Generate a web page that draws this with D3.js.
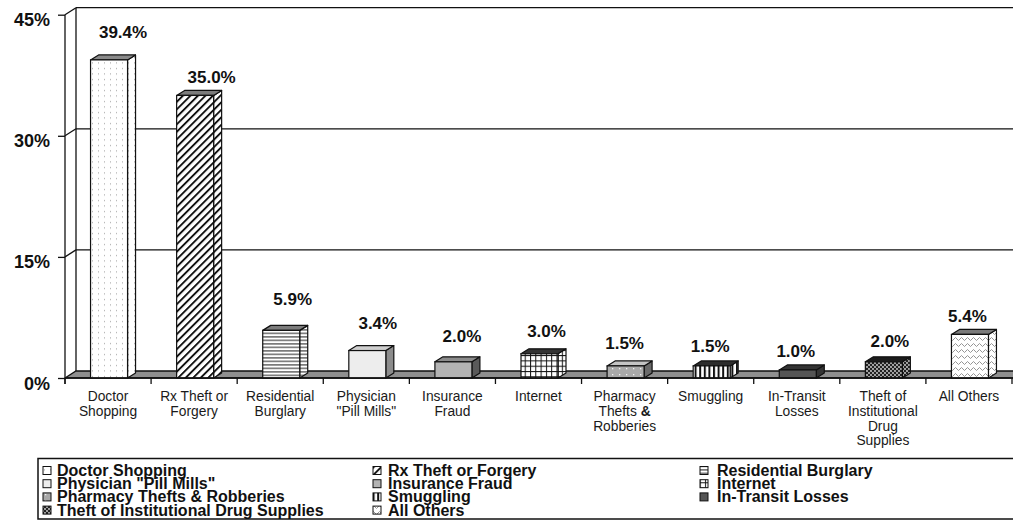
<!DOCTYPE html>
<html>
<head>
<meta charset="utf-8">
<script src="https://cdn.jsdelivr.net/npm/d3@7"></script>
<style>
  body { margin: 0; background: #fff; }
  svg { display: block; }
  text { font-family: "Liberation Sans", Arial, Helvetica, sans-serif; }
</style>
</head>
<body>
<svg id="chart" width="1013" height="521"></svg>
<script>
// ---- data ----
const categories = [
  "Doctor Shopping", "Rx Theft or Forgery", "Residential Burglary",
  'Physician "Pill Mills"', "Insurance Fraud", "Internet",
  "Pharmacy Thefts & Robberies", "Smuggling", "In-Transit Losses",
  "Theft of Institutional Drug Supplies", "All Others"
];
const axisLabelLines = [
  ["Doctor", "Shopping"], ["Rx Theft or", "Forgery"], ["Residential", "Burglary"],
  ["Physician", '"Pill Mills"'], ["Insurance", "Fraud"], ["Internet"],
  ["Pharmacy", "Thefts & ", "Robberies"], ["Smuggling"], ["In-Transit", "Losses"],
  ["Theft of", "Institutional", "Drug", "Supplies"], ["All Others"]
];
const values = [39.4, 35.0, 5.9, 3.4, 2.0, 3.0, 1.5, 1.5, 1.0, 2.0, 5.4];
const yTicks = [0, 15, 30, 45];

// ---- layout / style ----
const W = 1013, H = 521;
const x0 = 65, x1 = 1012;            // front plane extent
const yBase = 378, yTop = 14.7;      // front plane 0% and 45%
const wallDx = 11, wallDy = -7;      // depth of back wall
const barDx = 8, barDy = -5;         // depth of each bar
const barW = 37;

// label nudges (px): horizontal shift from band centre, lift above bar front top
const labelShift = [15, 17.5, 12.5, 11.5, 9.5, 8, 0, -0.5, -1, 7, -1.5];
const labelLift  = [22.3, 12.7, 25.4, 21.5, 19.5, 16.5, 16.9, 14.2, 12.6, 14.5, 12.7];

const svg = d3.select("#chart");
const defs = svg.append("defs");

function pat(id, w, h, build, transform) {
  const p = defs.append("pattern").attr("id", id)
    .attr("patternUnits", "userSpaceOnUse").attr("width", w).attr("height", h);
  if (transform) p.attr("patternTransform", transform);
  build(p);
}
pat("pDots", 6, 5.5, p => {
  p.append("rect").attr("width", 6).attr("height", 5.5).attr("fill", "#fff");
  p.append("rect").attr("x", 2).attr("y", 2).attr("width", 1).attr("height", 1).attr("fill", "#9a9a9a");
});
pat("pHatch", 5.3, 5.3, p => {
  p.append("rect").attr("width", 5.3).attr("height", 5.3).attr("fill", "#fff");
  p.append("rect").attr("x", 0).attr("width", 1.9).attr("height", 5.3).attr("fill", "#111");
}, "rotate(45)");
pat("pHStripe", 6, 3.5, p => {
  p.append("rect").attr("width", 6).attr("height", 3.5).attr("fill", "#fff");
  p.append("rect").attr("y", 0).attr("width", 6).attr("height", 1.7).attr("fill", "#7a7a7a");
});
pat("pGrid", 5.3, 5.3, p => {
  p.append("rect").attr("width", 5.3).attr("height", 5.3).attr("fill", "#fff");
  p.append("rect").attr("width", 1).attr("height", 5.3).attr("fill", "#111");
  p.append("rect").attr("width", 5.3).attr("height", 1).attr("fill", "#111");
});
pat("pGreyDots", 7, 6, p => {
  p.append("rect").attr("width", 7).attr("height", 6).attr("fill", "#a9a9a9");
  p.append("rect").attr("x", 3).attr("y", 2).attr("width", 1.3).attr("height", 1.3).attr("fill", "#f2f2f2");
});
pat("pVStripe", 4.6, 6, p => {
  p.append("rect").attr("width", 4.6).attr("height", 6).attr("fill", "#fff");
  p.append("rect").attr("width", 2).attr("height", 6).attr("fill", "#111");
});
pat("pMesh", 4, 4, p => {
  p.append("rect").attr("width", 4).attr("height", 4).attr("fill", "#222");
  p.append("circle").attr("cx", 1).attr("cy", 1).attr("r", 0.9).attr("fill", "#ddd");
  p.append("circle").attr("cx", 3).attr("cy", 3).attr("r", 0.9).attr("fill", "#ddd");
});
pat("pZig", 6, 6, p => {
  p.append("rect").attr("width", 6).attr("height", 6).attr("fill", "#fff");
  p.append("path").attr("d", "M-1,4 L1.5,1.5 L4.5,4.5 L7,2").attr("fill", "none")
    .attr("stroke", "#8a8a8a").attr("stroke-width", 0.9);
});

const faceFront = ["url(#pDots)", "url(#pHatch)", "url(#pHStripe)", "#ededed", "#b3b3b3",
  "url(#pGrid)", "url(#pGreyDots)", "url(#pVStripe)", "#555555", "url(#pMesh)", "url(#pZig)"];
const faceSide = ["url(#pDots)", "url(#pHatch)", "url(#pHStripe)", "#8c8c8c", "#5a5a5a",
  "url(#pGrid)", "#6a6a6a", "url(#pVStripe)", "#353535", "url(#pMesh)", "url(#pZig)"];
const faceTop = ["#8a8a8a", "#7c7c7c", "#7c7c7c", "#cfcfcf", "#8c8c8c",
  "#333333", "#c4c4c4", "#2c2c2c", "#333333", "#1c1c1c", "#7a7a7a"];

// ---- scales ----
const x = d3.scaleBand().domain(categories).range([x0, x1]).padding(0);
const y = d3.scaleLinear().domain([0, 45]).range([yBase, yTop]);

const ink = "#111";

// ---- back wall & floor ----
const wall = svg.append("g");
wall.append("path")
  .attr("d", `M${x0},${yBase} L${x0 + wallDx},${yBase + wallDy} L${W + 20},${yBase + wallDy} L${W + 20},${yBase} Z`)
  .attr("fill", "#8f8f8f").attr("stroke", ink).attr("stroke-width", 1.3);
wall.append("line")
  .attr("x1", x0 + wallDx).attr("x2", x0 + wallDx)
  .attr("y1", y(45) + wallDy).attr("y2", yBase + wallDy)
  .attr("stroke", ink).attr("stroke-width", 1.3);
wall.selectAll("g.grid").data(yTicks.filter(t => t > 0)).join("g").attr("class", "grid")
  .each(function (t) {
    const g = d3.select(this);
    g.append("line").attr("x1", x0).attr("y1", y(t))
      .attr("x2", x0 + wallDx).attr("y2", y(t) + wallDy)
      .attr("stroke", ink).attr("stroke-width", 1.3);
    g.append("line").attr("x1", x0 + wallDx).attr("y1", y(t) + wallDy)
      .attr("x2", W + 20).attr("y2", y(t) + wallDy)
      .attr("stroke", ink).attr("stroke-width", 1.3);
  });

// ---- bars ----
const bars = svg.append("g");
categories.forEach((c, i) => {
  const v = values[i];
  const fx0 = x(c) + x.bandwidth() / 2 + 1 - barW / 2;
  const fx1 = fx0 + barW;
  const yt = y(v), yb = y(0);
  const g = bars.append("g");
  g.append("path")
    .attr("d", `M${fx1},${yb} L${fx1 + barDx},${yb + barDy} L${fx1 + barDx},${yt + barDy} L${fx1},${yt} Z`)
    .attr("fill", faceSide[i]).attr("stroke", ink).attr("stroke-width", 1.2).attr("stroke-linejoin", "round");
  g.append("path")
    .attr("d", `M${fx0},${yt} L${fx0 + barDx},${yt + barDy} L${fx1 + barDx},${yt + barDy} L${fx1},${yt} Z`)
    .attr("fill", faceTop[i]).attr("stroke", ink).attr("stroke-width", 1.2).attr("stroke-linejoin", "round");
  g.append("rect")
    .attr("x", fx0).attr("y", yt).attr("width", barW).attr("height", yb - yt)
    .attr("fill", faceFront[i]).attr("stroke", ink).attr("stroke-width", 1.2);
});

// ---- front axis ----
svg.append("line").attr("x1", x0).attr("x2", x0).attr("y1", y(45)).attr("y2", yBase + 6)
  .attr("stroke", ink).attr("stroke-width", 1.3);
svg.append("line").attr("x1", x0).attr("x2", W + 20).attr("y1", yBase).attr("y2", yBase)
  .attr("stroke", ink).attr("stroke-width", 1.3);

const yAxis = d3.axisLeft(y).tickValues(yTicks).tickSize(7).tickPadding(0)
  .tickFormat(d => d + "%");
const yg = svg.append("g").attr("transform", `translate(${x0},0)`).call(yAxis);
yg.select(".domain").remove();
yg.selectAll(".tick line").attr("stroke", ink).attr("stroke-width", 1.3);
yg.selectAll(".tick text")
  .attr("x", -15).attr("dy", null).attr("y", 11)
  .attr("font-size", 18).attr("font-weight", "bold").attr("fill", ink)
  .attr("font-family", '"Liberation Sans", Arial, sans-serif');

// category separators below the baseline
const bounds = categories.map(c => x(c)).concat([x1]);
svg.append("g").selectAll("line").data(bounds).join("line")
  .attr("x1", d => d).attr("x2", d => d).attr("y1", yBase).attr("y2", yBase + 6)
  .attr("stroke", ink).attr("stroke-width", 1.3);

// category labels
const cat = svg.append("g");
categories.forEach((c, i) => {
  const cx = x(c) + x.bandwidth() / 2;
  const t = cat.append("text").attr("text-anchor", "middle").attr("font-size", 13.8).attr("fill", "#1a1a1a");
  axisLabelLines[i].forEach((line, k) => {
    const ts = t.append("tspan").attr("x", cx).attr("y", 401 + k * 14.8);
    if (line.includes("&")) {
      const parts = line.split("&");
      ts.text(parts[0]);
      t.append("tspan").attr("font-weight", "bold").text("&");
      if (parts[1].trim()) t.append("tspan").text(parts[1]);
    } else {
      ts.text(line);
    }
  });
});

// value labels
svg.append("g").selectAll("text").data(values).join("text")
  .attr("x", (d, i) => x(categories[i]) + x.bandwidth() / 2 + labelShift[i])
  .attr("y", (d, i) => y(d) - labelLift[i])
  .attr("text-anchor", "middle").attr("font-size", 17).attr("font-weight", "bold").attr("fill", ink)
  .text(d => d.toFixed(1) + "%");

// ---- legend ----
const leg = svg.append("g");
leg.append("rect").attr("x", 38).attr("y", 458.5).attr("width", 1000).attr("height", 60.5)
  .attr("fill", "#fff").attr("stroke", ink).attr("stroke-width", 1.5);
const colIcon = [43, 373, 700], colText = [57, 388, 717];
const rowBase = [476, 489.2, 502.4, 515.6];
categories.forEach((c, i) => {
  const col = i % 3, row = Math.floor(i / 3);
  const b = rowBase[row];
  leg.append("rect").attr("x", colIcon[col]).attr("y", b - 9.5).attr("width", 8).attr("height", 8)
    .attr("fill", faceFront[i]).attr("stroke", ink).attr("stroke-width", 1);
  leg.append("text").attr("x", colText[col]).attr("y", b)
    .attr("font-size", 16).attr("font-weight", "bold").attr("fill", ink).text(c);
});
</script>
</body>
</html>
